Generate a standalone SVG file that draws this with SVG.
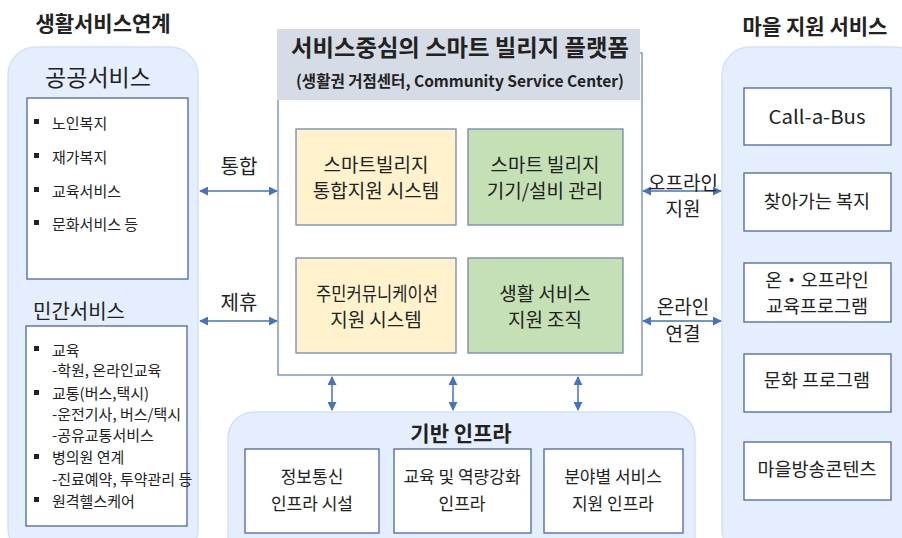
<svg xmlns="http://www.w3.org/2000/svg" width="902" height="538" viewBox="0 0 902 538">
<defs>
<marker id="ah" viewBox="0 0 10 10" refX="9" refY="5" markerWidth="9" markerHeight="9" markerUnits="userSpaceOnUse" orient="auto-start-reverse">
<path d="M0,0 L10,5 L0,10 z" fill="#4472C4"/>
</marker>
<style>
text{font-family:"Noto Sans CJK KR","Noto Sans",sans-serif;fill:#222;dominant-baseline:central}
.c{text-anchor:middle}
.b{font-weight:bold}
.grp{fill:#E4EEFC;stroke:#D3E2F8;stroke-width:1.5}
.box{fill:#fff;stroke:#4A66A0;stroke-width:1.3}
.yel{fill:#FFF2CC;stroke:#6F88B8;stroke-width:1.3}
.grn{fill:#C5E0B4;stroke:#6F88B8;stroke-width:1.3}
.con{stroke:#4472C4;stroke-width:1.5;fill:none;marker-start:url(#ah);marker-end:url(#ah)}
.it{font-size:15px}
.bl{fill:#222}
.m{font-size:19px}
.r{font-size:18.5px}
.f{font-size:17px}
.l{font-size:19px}
</style>
</defs>
<rect width="902" height="538" fill="#fff"/>

<g id="left-services">
<text class="c b" x="103" y="22" font-size="21">생활서비스연계</text>
<rect class="grp" x="8" y="47" width="190" height="510" rx="28"/>
<text class="c" x="98" y="76" font-size="23">공공서비스</text>
<rect class="box" x="27" y="98" width="161" height="181"/>
<rect class="bl" x="34" y="119" width="5" height="5"/>
<text class="it" x="52" y="122">노인복지</text>
<rect class="bl" x="34" y="153" width="5" height="5"/>
<text class="it" x="52" y="156">재가복지</text>
<rect class="bl" x="34" y="187" width="5" height="5"/>
<text class="it" x="52" y="190">교육서비스</text>
<rect class="bl" x="34" y="220" width="5" height="5"/>
<text class="it" x="52" y="223">문화서비스 등</text>
<text x="33" y="310" font-size="20">민간서비스</text>
<rect class="box" x="26" y="326" width="161" height="200"/>
<rect class="bl" x="34" y="346" width="5" height="5"/>
<text class="it" x="52" y="349">교육</text>
<text class="it" x="52" y="369">-학원, 온라인교육</text>
<rect class="bl" x="34" y="390" width="5" height="5"/>
<text class="it" x="52" y="392">교통(버스,택시)</text>
<text class="it" x="52" y="413">-운전기사, 버스/택시</text>
<text class="it" x="52" y="434">-공유교통서비스</text>
<rect class="bl" x="34" y="454" width="5" height="5"/>
<text class="it" x="52" y="456">병의원 연계</text>
<text class="it" x="52" y="478">-진료예약, 투약관리 등</text>
<rect class="bl" x="34" y="497" width="5" height="5"/>
<text class="it" x="52" y="500">원격헬스케어</text>
</g>

<g id="platform">
<rect x="278" y="53" width="364" height="322" fill="#fff" stroke="#6F88B8" stroke-width="1.3"/>
<rect x="277" y="29" width="363" height="71" fill="#D6DCE5"/>
<text class="c b" x="460" y="46" font-size="23" textLength="338" lengthAdjust="spacingAndGlyphs">서비스중심의 스마트 빌리지 플랫폼</text>
<text class="c b" x="460" y="80" font-size="16" textLength="328" lengthAdjust="spacingAndGlyphs">(생활권 거점센터, Community Service Center)</text>
</g>
<g id="n-integrated">
<rect class="yel" x="296" y="129" width="160" height="96"/>
<text class="c m" x="376" y="163">스마트빌리지</text>
<text class="c m" x="376" y="189">통합지원 시스템</text>
</g>
<g id="n-devices">
<rect class="grn" x="468" y="129" width="155" height="96"/>
<text class="c m" x="545" y="163">스마트 빌리지</text>
<text class="c m" x="545" y="189">기기/설비 관리</text>
</g>
<g id="n-community">
<rect class="yel" x="296" y="258" width="160" height="95"/>
<text class="c m" x="377" y="292" textLength="122" lengthAdjust="spacingAndGlyphs">주민커뮤니케이션</text>
<text class="c m" x="376" y="318">지원 시스템</text>
</g>
<g id="n-org">
<rect class="grn" x="468" y="258" width="155" height="95"/>
<text class="c m" x="545" y="292">생활 서비스</text>
<text class="c m" x="545" y="318">지원 조직</text>
</g>

<g id="infra">
<rect class="grp" x="228" y="412" width="467" height="150" rx="26"/>
<text class="c b" x="461" y="432" font-size="21">기반 인프라</text>
<rect class="box" x="245" y="449" width="134" height="84"/>
<text class="c f" x="312" y="475">정보통신</text>
<text class="c f" x="312" y="502">인프라 시설</text>
<rect class="box" x="394" y="449" width="137" height="84"/>
<text class="c f" x="462" y="475">교육 및 역량강화</text>
<text class="c f" x="462" y="502">인프라</text>
<rect class="box" x="544" y="449" width="139" height="84"/>
<text class="c f" x="613" y="475">분야별 서비스</text>
<text class="c f" x="613" y="502">지원 인프라</text>
</g>

<g id="village-services">
<text class="c b" x="815" y="25" font-size="21">마을 지원 서비스</text>
<rect class="grp" x="722" y="47" width="200" height="510" rx="28"/>
<rect class="box" x="744" y="88" width="147" height="57"/>
<text class="c" x="817" y="115" font-size="19" textLength="97" lengthAdjust="spacingAndGlyphs">Call-a-Bus</text>
<rect class="box" x="744" y="173" width="147" height="58"/>
<text class="c r" x="817" y="200">찾아가는 복지</text>
<rect class="box" x="744" y="263" width="147" height="59"/>
<text class="c r" x="817" y="279">온・오프라인</text>
<text class="c r" x="817" y="305">교육프로그램</text>
<rect class="box" x="744" y="354" width="147" height="58"/>
<text class="c r" x="817" y="379">문화 프로그램</text>
<rect class="box" x="744" y="442" width="147" height="58"/>
<text class="c r" x="817" y="468">마을방송콘텐츠</text>
</g>

<g id="connectors">
<line class="con" x1="200" y1="191" x2="277" y2="191"/>
<text class="c" x="239" y="165" font-size="20">통합</text>
<line class="con" x1="200" y1="321" x2="277" y2="321"/>
<text class="c" x="239" y="301" font-size="20">제휴</text>
<line class="con" x1="643" y1="191" x2="721" y2="191"/>
<text class="c l" x="683" y="181">오프라인</text>
<text class="c l" x="683" y="207">지원</text>
<line class="con" x1="643" y1="321" x2="721" y2="321"/>
<text class="c l" x="683" y="305">온라인</text>
<text class="c l" x="683" y="332">연결</text>
<line class="con" x1="332" y1="377" x2="332" y2="410"/>
<line class="con" x1="453" y1="377" x2="453" y2="410"/>
<line class="con" x1="578" y1="377" x2="578" y2="410"/>
</g>
</svg>
